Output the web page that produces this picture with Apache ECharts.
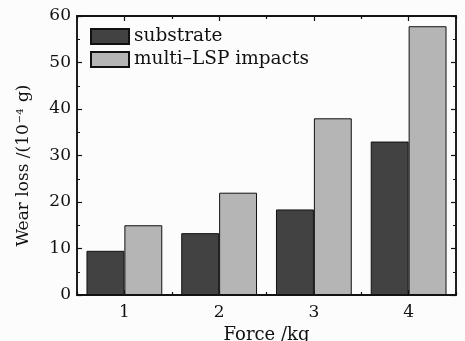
<!DOCTYPE html>
<html>
<head>
<meta charset="utf-8">
<script src="https://cdn.jsdelivr.net/npm/echarts@6/dist/echarts.min.js"></script>
<style>
  html, body { margin: 0; padding: 0; background: #fcfcfc; }
  #chart { width: 465px; height: 341px; }
</style>
</head>
<body>
<div id="chart"></div>
<script>
// Wear loss at each applied force, untreated vs. multi-LSP treated
const categories = ['1', '2', '3', '4'];
const substrate = [9.5, 13.3, 18.4, 33.0];
const multiLSP = [15.0, 22.0, 38.0, 57.8];
const yTicks = { min: 0, max: 60, interval: 10 };

const FONT = 'DejaVu Serif';
const INK = '#111';

const chart = echarts.init(document.getElementById('chart'), null, { renderer: 'canvas' });

function catAxis(position, centers, showLabel) {
  return {
    type: 'category',
    data: categories,
    position: position,
    boundaryGap: true,
    axisLine: { show: true, onZero: false, lineStyle: { color: INK, width: 1.5 } },
    axisTick: { show: true, inside: true, alignWithLabel: centers, length: centers ? 5 : 3, lineStyle: { color: INK, width: 1.2 } },
    axisLabel: { show: showLabel, color: INK, fontFamily: FONT, fontSize: 17, margin: 9 },
    splitLine: { show: false }
  };
}

function valAxis(position, showLabel) {
  return {
    type: 'value',
    position: position,
    min: yTicks.min,
    max: yTicks.max,
    interval: yTicks.interval,
    axisLine: { show: true, onZero: false, lineStyle: { color: INK, width: 1.5 } },
    axisTick: { show: true, inside: true, length: 5, lineStyle: { color: INK, width: 1.2 } },
    minorTick: { show: true, splitNumber: 2, length: 3, lineStyle: { color: INK, width: 1 } },
    axisLabel: { show: showLabel, color: INK, fontFamily: FONT, fontSize: 17, margin: 6 },
    splitLine: { show: false }
  };
}

const xBottom = catAxis('bottom', true, true);
xBottom.name = 'Force /kg';
xBottom.nameLocation = 'middle';
xBottom.nameGap = 26;
xBottom.nameTextStyle = { color: INK, fontFamily: FONT, fontSize: 18 };

const yLeft = valAxis('left', true);
yLeft.name = '{a|Wear loss /(10}{s|−4}{a| g)}';
yLeft.nameLocation = 'middle';
yLeft.nameGap = 44;
yLeft.nameTextStyle = {
  padding: [0, 20, 0, 0],
  rich: {
    a: { color: INK, fontFamily: FONT, fontSize: 17 },
    s: { color: INK, fontFamily: FONT, fontSize: 10, verticalAlign: 'top', padding: [0, 1, 8, 1] }
  }
};

const option = {
  backgroundColor: '#fcfcfc',
  animation: false,
  grid: {
    left: 77, right: 9, top: 16, bottom: 46,
    containLabel: false,
    outerBoundsMode: 'none',
    show: true,
    backgroundColor: 'transparent',
    borderColor: INK,
    borderWidth: 1.5
  },
  legend: {
    orient: 'vertical',
    left: 90,
    top: 27,
    padding: 0,
    icon: 'rect',
    itemWidth: 38,
    itemHeight: 15,
    itemGap: 4,
    textStyle: { color: INK, fontFamily: FONT, fontSize: 18.5, padding: [0, 0, 0, 0] },
    data: ['substrate', 'multi–LSP impacts']
  },
  xAxis: [
    xBottom,
    catAxis('bottom', false, false),
    catAxis('top', true, false),
    catAxis('top', false, false)
  ],
  yAxis: [yLeft, valAxis('right', false)],
  series: [
    {
      name: 'substrate',
      type: 'bar',
      xAxisIndex: 0,
      yAxisIndex: 0,
      data: substrate,
      barWidth: '40%',
      barGap: '0%',
      itemStyle: { color: '#424242', borderColor: '#111', borderWidth: 1 }
    },
    {
      name: 'multi–LSP impacts',
      type: 'bar',
      xAxisIndex: 0,
      yAxisIndex: 0,
      data: multiLSP,
      barWidth: '40%',
      barGap: '0%',
      itemStyle: { color: '#b5b5b5', borderColor: '#111', borderWidth: 1 }
    }
  ]
};

chart.setOption(option);
</script>
</body>
</html>
